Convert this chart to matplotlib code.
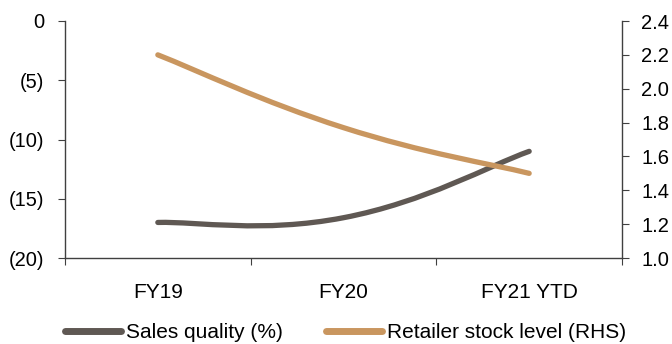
import matplotlib
matplotlib.use('Agg')
import matplotlib.pyplot as plt
from matplotlib.path import Path
from matplotlib.patches import PathPatch
from matplotlib.lines import Line2D
from matplotlib.ticker import FixedLocator, FuncFormatter, NullFormatter
import numpy as np

plt.rcParams['font.family'] = ['Liberation Sans', 'DejaVu Sans']

periods = ['FY19', 'FY20', 'FY21 YTD']
sales_quality = [-17.0, -16.6, -11.0]
stock_level = [2.2, 1.77, 1.5]

GREY = '#5f5853'
TAN = '#c9965f'
SPINE = '#404040'
FS = 15


def smooth_path(xs, ys, tension=1/6):
    # cardinal spline through the points, written as cubic bezier segments
    pts = np.column_stack([xs, ys]).astype(float)
    n = len(pts)
    verts = [pts[0]]
    codes = [Path.MOVETO]
    for i in range(n - 1):
        p_prev = pts[max(i - 1, 0)]
        p0, p1 = pts[i], pts[i + 1]
        p_next = pts[min(i + 2, n - 1)]
        c1 = p0 + (p1 - p_prev) * tension
        c2 = p1 - (p_next - p0) * tension
        verts += [c1, c2, p1]
        codes += [Path.CURVE4] * 3
    return Path(verts, codes)


fig = plt.figure(figsize=(6.72, 3.44), dpi=100)
ax = fig.add_axes([65/672, 86/344, 557/672, 237/344])
ax2 = ax.twinx()

x = np.arange(len(periods))
ax.add_patch(PathPatch(smooth_path(x, sales_quality, 0.22), fill=False,
                       edgecolor=GREY, lw=3.8, capstyle='round', zorder=3))
ax2.add_patch(PathPatch(smooth_path(x, stock_level, 0.22), fill=False,
                        edgecolor=TAN, lw=3.8, capstyle='round', zorder=3))

ax.set_xlim(-0.5, len(periods) - 0.5)
ax.set_ylim(-20, 0)
ax2.set_ylim(1.0, 2.4)

# category boundaries carry the ticks, labels sit in the middle
ax.xaxis.set_major_locator(FixedLocator(np.arange(-0.5, len(periods), 1.0)))
ax.xaxis.set_major_formatter(NullFormatter())
ax.xaxis.set_minor_locator(FixedLocator(x))
ax.set_xticklabels(periods, minor=True)
ax.tick_params(axis='x', which='minor', length=0, pad=18, labelsize=FS)
ax.tick_params(axis='x', which='major', length=5, color=SPINE, direction='out')

ax.set_yticks(np.arange(-20, 1, 5))
ax.yaxis.set_major_formatter(FuncFormatter(lambda v, p: '0' if v == 0 else f'({abs(v):.0f})'))
ax2.set_yticks(np.arange(1.0, 2.41, 0.2))
ax2.yaxis.set_major_formatter(FuncFormatter(lambda v, p: f'{v:.1f}'))

for a in (ax, ax2):
    a.tick_params(axis='y', length=5, color=SPINE, direction='out', labelsize=14.5)
    for side in ('left', 'right', 'bottom'):
        a.spines[side].set_color(SPINE)
        a.spines[side].set_linewidth(1.0)
    a.spines['top'].set_visible(False)
ax.tick_params(axis='y', pad=10)
ax2.tick_params(axis='y', pad=9)
ax.spines['right'].set_visible(False)
ax2.spines['left'].set_visible(False)
ax2.spines['bottom'].set_visible(False)

handles = [Line2D([], [], color=GREY, lw=5, solid_capstyle='round'),
           Line2D([], [], color=TAN, lw=5, solid_capstyle='round')]
fig.legend(handles, ['Sales quality (%)', 'Retailer stock level (RHS)'],
           loc='lower center', bbox_to_anchor=(0.514, -0.05), ncol=2, frameon=False,
           fontsize=FS, handlelength=2.7, handletextpad=0.2, columnspacing=2.1)

fig.savefig('out.png', dpi=100)
